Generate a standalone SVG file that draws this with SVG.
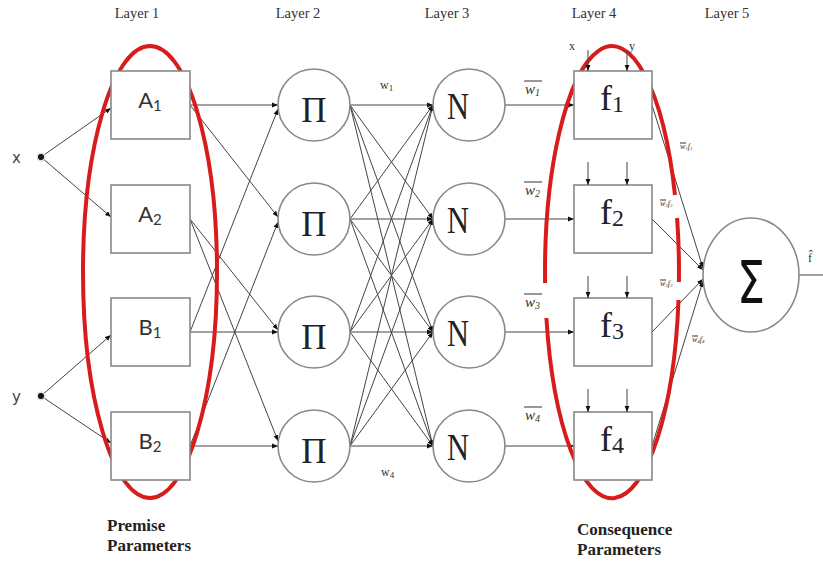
<svg xmlns="http://www.w3.org/2000/svg" width="823" height="562" viewBox="0 0 823 562">
<defs>
<marker id="ah" viewBox="0 0 10 10" refX="10" refY="5" markerWidth="6" markerHeight="6" orient="auto" markerUnits="userSpaceOnUse"><path d="M0,1 L10,5 L0,9 z" fill="#111"/></marker>
<style>
.conn line{stroke:#444;stroke-width:1;fill:none}
.box{fill:#fff;stroke:#888;stroke-width:1.6}
.red{fill:none;stroke:#d81c1c;stroke-width:4}
.lay{font-family:"Liberation Serif",serif;font-size:14.5px;fill:#333;text-anchor:middle}
.mf{font-family:Lato,"DejaVu Sans",sans-serif;font-size:22px;fill:#333;text-anchor:middle}
.op{font-family:"Liberation Serif",serif;fill:#222;text-anchor:middle}
.par{font-family:"Liberation Serif",serif;font-weight:bold;font-size:17px;fill:#222}
.wbar{font-family:"Liberation Serif",serif;font-style:italic;font-size:15px;fill:#333}
.sm{font-family:"Liberation Serif",serif;font-size:12px;fill:#333}
.tiny{font-family:"Liberation Serif",serif;font-style:italic;font-size:8px;fill:#333}
.ov{stroke:#333;stroke-width:1}
.io{font-family:"DejaVu Sans",sans-serif;font-size:15px;fill:#444}
</style>
</defs>
<rect width="823" height="562" fill="#fff"/>
<g id="layer-labels">
<text class="lay" x="137" y="18">Layer 1</text>
<text class="lay" x="298" y="18">Layer 2</text>
<text class="lay" x="447" y="18">Layer 3</text>
<text class="lay" x="594" y="18">Layer 4</text>
<text class="lay" x="727" y="18">Layer 5</text>
</g>
<g id="connectors" class="conn">
<line x1="41" y1="157" x2="111" y2="108" marker-end="url(#ah)"/>
<line x1="41" y1="157" x2="111" y2="217" marker-end="url(#ah)"/>
<line x1="41" y1="396" x2="111" y2="335" marker-end="url(#ah)"/>
<line x1="41" y1="396" x2="111" y2="443" marker-end="url(#ah)"/>
<line x1="190" y1="105" x2="278" y2="105" marker-end="url(#ah)"/>
<line x1="190" y1="105" x2="278" y2="217" marker-end="url(#ah)"/>
<line x1="190" y1="219" x2="278" y2="330" marker-end="url(#ah)"/>
<line x1="190" y1="219" x2="278" y2="441" marker-end="url(#ah)"/>
<line x1="190" y1="332" x2="278" y2="109" marker-end="url(#ah)"/>
<line x1="190" y1="332" x2="278" y2="332" marker-end="url(#ah)"/>
<line x1="190" y1="446" x2="278" y2="222" marker-end="url(#ah)"/>
<line x1="190" y1="446" x2="278" y2="446" marker-end="url(#ah)"/>
<line x1="350" y1="105" x2="433" y2="105" marker-end="url(#ah)"/>
<line x1="350" y1="105" x2="433" y2="219" marker-end="url(#ah)"/>
<line x1="350" y1="105" x2="433" y2="332" marker-end="url(#ah)"/>
<line x1="350" y1="105" x2="433" y2="446" marker-end="url(#ah)"/>
<line x1="350" y1="219" x2="433" y2="105" marker-end="url(#ah)"/>
<line x1="350" y1="219" x2="433" y2="219" marker-end="url(#ah)"/>
<line x1="350" y1="219" x2="433" y2="332" marker-end="url(#ah)"/>
<line x1="350" y1="219" x2="433" y2="446" marker-end="url(#ah)"/>
<line x1="350" y1="332" x2="433" y2="105" marker-end="url(#ah)"/>
<line x1="350" y1="332" x2="433" y2="219" marker-end="url(#ah)"/>
<line x1="350" y1="332" x2="433" y2="332" marker-end="url(#ah)"/>
<line x1="350" y1="332" x2="433" y2="446" marker-end="url(#ah)"/>
<line x1="350" y1="446" x2="433" y2="105" marker-end="url(#ah)"/>
<line x1="350" y1="446" x2="433" y2="219" marker-end="url(#ah)"/>
<line x1="350" y1="446" x2="433" y2="332" marker-end="url(#ah)"/>
<line x1="350" y1="446" x2="433" y2="446" marker-end="url(#ah)"/>
<line x1="505" y1="105" x2="574" y2="105" marker-end="url(#ah)"/>
<line x1="505" y1="219" x2="574" y2="219" marker-end="url(#ah)"/>
<line x1="505" y1="332" x2="574" y2="332" marker-end="url(#ah)"/>
<line x1="505" y1="446" x2="574" y2="446" marker-end="url(#ah)"/>
<line x1="652" y1="105" x2="703" y2="268" marker-end="url(#ah)"/>
<line x1="652" y1="219" x2="703" y2="270" marker-end="url(#ah)"/>
<line x1="652" y1="332" x2="703" y2="279" marker-end="url(#ah)"/>
<line x1="652" y1="446" x2="703" y2="281" marker-end="url(#ah)"/>
<line x1="799" y1="275" x2="823" y2="275"/>
</g>
<g id="premise-ellipse">
<ellipse class="red" cx="150" cy="272" rx="67" ry="226"/>
</g>
<g id="consequence-ellipse">
<path class="red" d="M677.1,218 A67,226 0 0 1 678.9,282 M678.5,300 A67,226 0 0 1 546.4,318 M545.1,283 A67,226 0 0 1 675,195"/>
</g>
<g id="input-x"><circle cx="41" cy="157" r="4.5" fill="#ddd"/><circle cx="41" cy="157" r="3" fill="#111"/><text class="io" x="12" y="163">x</text></g>
<g id="input-y"><circle cx="41" cy="396" r="4.5" fill="#ddd"/><circle cx="41" cy="396" r="3" fill="#111"/><text class="io" x="12" y="402">y</text></g>
<g id="A1"><rect class="box" x="111" y="71" width="79" height="68"/><text class="mf" x="150" y="108">A<tspan font-size="15" dy="3">1</tspan></text></g>
<g id="A2"><rect class="box" x="111" y="185" width="79" height="68"/><text class="mf" x="150" y="222">A<tspan font-size="15" dy="3">2</tspan></text></g>
<g id="B1"><rect class="box" x="111" y="298" width="79" height="68"/><text class="mf" x="150" y="335">B<tspan font-size="15" dy="3">1</tspan></text></g>
<g id="B2"><rect class="box" x="111" y="412" width="79" height="68"/><text class="mf" x="150" y="449">B<tspan font-size="15" dy="3">2</tspan></text></g>
<g id="P1"><circle class="box" cx="314" cy="105" r="36"/><text class="op" x="314" y="122" font-size="35">Π</text></g>
<g id="P2"><circle class="box" cx="314" cy="219" r="36"/><text class="op" x="314" y="236" font-size="35">Π</text></g>
<g id="P3"><circle class="box" cx="314" cy="332" r="36"/><text class="op" x="314" y="349" font-size="35">Π</text></g>
<g id="P4"><circle class="box" cx="314" cy="446" r="36"/><text class="op" x="314" y="463" font-size="35">Π</text></g>
<g id="w-labels">
<text class="sm" x="380" y="89">w<tspan font-size="9" dy="2">1</tspan></text>
<text class="sm" x="381" y="476">w<tspan font-size="9" dy="2">4</tspan></text>
</g>
<g id="N1"><circle class="box" cx="469" cy="105" r="36"/><text class="op" x="458" y="119" font-size="38" textLength="22" lengthAdjust="spacingAndGlyphs" text-anchor="start">N</text></g>
<g id="N2"><circle class="box" cx="469" cy="219" r="36"/><text class="op" x="458" y="233" font-size="38" textLength="22" lengthAdjust="spacingAndGlyphs" text-anchor="start">N</text></g>
<g id="N3"><circle class="box" cx="469" cy="332" r="36"/><text class="op" x="458" y="346" font-size="38" textLength="22" lengthAdjust="spacingAndGlyphs" text-anchor="start">N</text></g>
<g id="N4"><circle class="box" cx="469" cy="446" r="36"/><text class="op" x="458" y="460" font-size="38" textLength="22" lengthAdjust="spacingAndGlyphs" text-anchor="start">N</text></g>
<g id="wbar-labels">
<text class="wbar" x="525" y="94">w<tspan font-size="10" dy="2">1</tspan></text><line class="ov" x1="524" y1="81" x2="542" y2="81"/>
<text class="wbar" x="525" y="195">w<tspan font-size="10" dy="2">2</tspan></text><line class="ov" x1="524" y1="182" x2="542" y2="182"/>
<text class="wbar" x="525" y="307">w<tspan font-size="10" dy="2">3</tspan></text><line class="ov" x1="524" y1="294" x2="542" y2="294"/>
<text class="wbar" x="525" y="420">w<tspan font-size="10" dy="2">4</tspan></text><line class="ov" x1="524" y1="407" x2="542" y2="407"/>
</g>
<g id="f1"><rect class="box" x="574" y="71" width="78" height="68"/><text class="op" x="612" y="110" font-size="36">f<tspan font-size="24" dy="2">1</tspan></text>
<line x1="588" y1="50" x2="588" y2="71" stroke="#444" marker-end="url(#ah)"/><line x1="627" y1="50" x2="627" y2="71" stroke="#444" marker-end="url(#ah)"/>
<text class="sm" x="569" y="50">x</text><text class="sm" x="629" y="50">y</text></g>
<g id="f2"><rect class="box" x="574" y="185" width="78" height="68"/><text class="op" x="612" y="224" font-size="36">f<tspan font-size="24" dy="2">2</tspan></text>
<line x1="588" y1="162" x2="588" y2="185" stroke="#444" marker-end="url(#ah)"/><line x1="627" y1="162" x2="627" y2="185" stroke="#444" marker-end="url(#ah)"/></g>
<g id="f3"><rect class="box" x="574" y="298" width="78" height="68"/><text class="op" x="612" y="337" font-size="36">f<tspan font-size="24" dy="2">3</tspan></text>
<line x1="588" y1="276" x2="588" y2="298" stroke="#444" marker-end="url(#ah)"/><line x1="627" y1="276" x2="627" y2="298" stroke="#444" marker-end="url(#ah)"/></g>
<g id="f4"><rect class="box" x="574" y="412" width="78" height="68"/><text class="op" x="612" y="451" font-size="36">f<tspan font-size="24" dy="2">4</tspan></text>
<line x1="588" y1="389" x2="588" y2="412" stroke="#444" marker-end="url(#ah)"/><line x1="627" y1="389" x2="627" y2="412" stroke="#444" marker-end="url(#ah)"/></g>
<g id="wf-labels">
<text class="tiny" x="680" y="149">w<tspan font-size="5" dy="1">1</tspan><tspan dy="-1">f</tspan><tspan font-size="5" dy="1">1</tspan></text><line class="ov" x1="680" y1="143" x2="686" y2="143" stroke-width="0.6"/>
<text class="tiny" x="660" y="206">w<tspan font-size="5" dy="1">2</tspan><tspan dy="-1">f</tspan><tspan font-size="5" dy="1">2</tspan></text><line class="ov" x1="660" y1="200" x2="666" y2="200" stroke-width="0.6"/>
<text class="tiny" x="660" y="286">w<tspan font-size="5" dy="1">3</tspan><tspan dy="-1">f</tspan><tspan font-size="5" dy="1">3</tspan></text><line class="ov" x1="660" y1="280" x2="666" y2="280" stroke-width="0.6"/>
<text class="tiny" x="692" y="342">w<tspan font-size="5" dy="1">4</tspan><tspan dy="-1">f</tspan><tspan font-size="5" dy="1">4</tspan></text><line class="ov" x1="692" y1="336" x2="698" y2="336" stroke-width="0.6"/>
</g>
<g id="sum"><ellipse class="box" cx="751" cy="275" rx="48" ry="57"/><text x="737" y="303" font-family="DejaVu Sans,sans-serif" font-size="58" fill="#111" textLength="28" lengthAdjust="spacingAndGlyphs">Σ</text>
<text class="sm" x="808" y="262" font-size="14">f̂</text></g>
<g id="param-labels">
<text class="par" x="107" y="531">Premise</text>
<text class="par" x="107" y="551">Parameters</text>
<text class="par" x="577" y="535">Consequence</text>
<text class="par" x="577" y="555">Parameters</text>
</g>
</svg>
